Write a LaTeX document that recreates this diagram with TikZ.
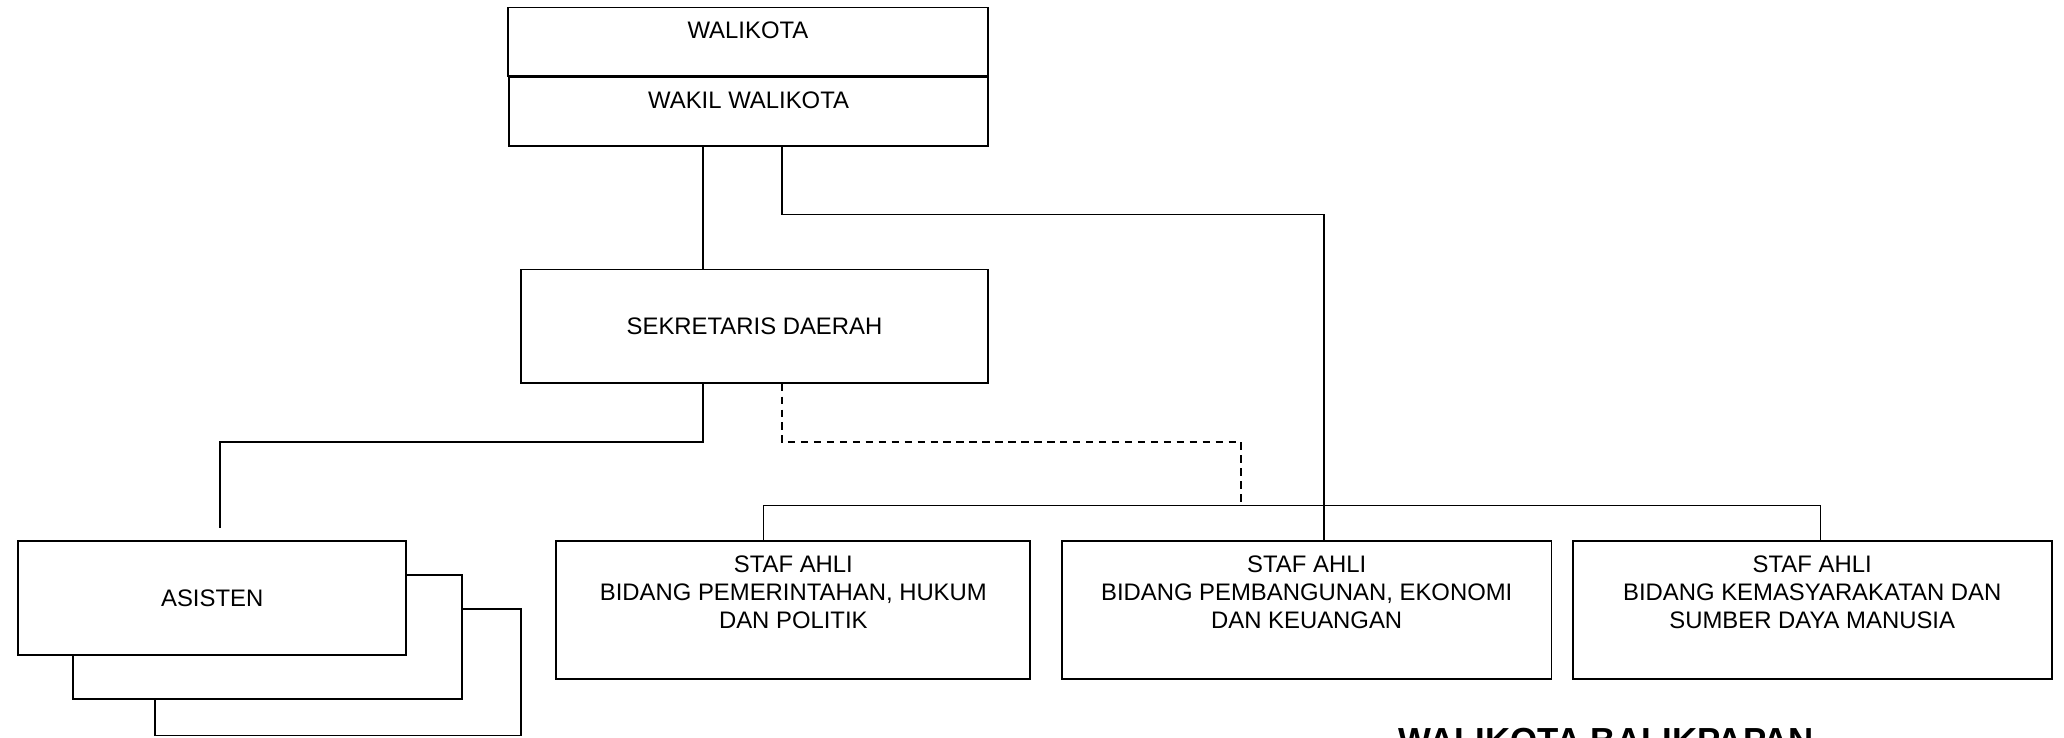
\documentclass[tikz,border=0pt]{standalone}
\usepackage{fontspec}
\setmainfont{Liberation Sans}
\usetikzlibrary{calc,positioning}

\tikzset{
kotak/.style={draw, line width=1pt, fill=white, inner sep=0pt, anchor=north west},
teks/.style={font=\fontsize{12.9}{14.9}\selectfont, align=center, inner sep=0pt},
judul/.style={font=\fontsize{18.8}{22}\selectfont\bfseries, inner sep=0pt, anchor=north west},
garis/.style={line width=1pt},
putus/.style={line width=1pt, dash pattern=on 4pt off 3pt}
}

\begin{document}
\begin{tikzpicture}[x=0.025cm, y=-0.025cm]
\pgfmathsetmacro{\ps}{0.025}
\useasboundingbox (0,0) rectangle (1568,560);
%
\node[kotak, minimum width=365*\ps cm, minimum height=52*\ps cm] (walikota) at (385,5) {};
\node[teks] (twalikota) at ($(walikota.north)+(0,18)$) {WALIKOTA};
\node[kotak, minimum width=364*\ps cm, minimum height=52*\ps cm] (wakil) at (386,58) {};
\node[teks] (twakil) at ($(wakil.north)+(0,18)$) {WAKIL WALIKOTA};
%
\node[kotak, teks, minimum width=355*\ps cm, minimum height=86*\ps cm] (sekda) at (395,204) {SEKRETARIS DAERAH};
%
\node[kotak, minimum width=278*\ps cm, minimum height=96*\ps cm] (asisten3) at (117,462) {};
\node[kotak, minimum width=295*\ps cm, minimum height=94*\ps cm] (asisten2) at (55,436) {};
\node[kotak, teks, minimum width=295*\ps cm, minimum height=87*\ps cm] (asisten) at (13,410) {ASISTEN};
%
\node[kotak, minimum width=360*\ps cm, minimum height=105*\ps cm] (staf1) at (422,410) {};
\node[teks] (tstaf1) at ($(staf1.north)+(0,40)$) {STAF AHLI\\BIDANG PEMERINTAHAN, HUKUM\\DAN POLITIK};
\node[kotak, minimum width=372*\ps cm, minimum height=105*\ps cm] (staf2) at (806,410) {};
\node[teks] (tstaf2) at ($(staf2.north)+(0,40)$) {STAF AHLI\\BIDANG PEMBANGUNAN, EKONOMI\\DAN KEUANGAN};
\node[kotak, minimum width=364*\ps cm, minimum height=105*\ps cm] (staf3) at (1194,410) {};
\node[teks] (tstaf3) at ($(staf3.north)+(0,40)$) {STAF AHLI\\BIDANG KEMASYARAKATAN DAN\\SUMBER DAYA MANUSIA};
%
\node[judul] (kota) at (1062,553) {WALIKOTA BALIKPAPAN};
%
\coordinate (kiri) at (534,0);
\coordinate (kanan) at (594,0);
\coordinate (tengah) at (1006,163);
\coordinate (b1) at (580,384);
\coordinate (b3) at (1383,384);
\coordinate (d) at (943,336);
\coordinate (a) at (167,336);
\coordinate (asistenatas) at (167,401);
%
\draw[garis] (wakil.south -| kiri) -- (sekda.north -| kiri);
\draw[garis] (wakil.south -| kanan) |- (tengah) -- (tengah |- staf2.north);
%
\draw[garis] (sekda.south -| kiri) |- (a) -- (asistenatas);
\draw[putus] (sekda.south -| kanan) |- (d) -- (d |- b1);
%
\draw[garis] (b1 |- staf1.north) -- (b1) -- (b3) -- (b3 |- staf3.north);
\end{tikzpicture}
\end{document}
